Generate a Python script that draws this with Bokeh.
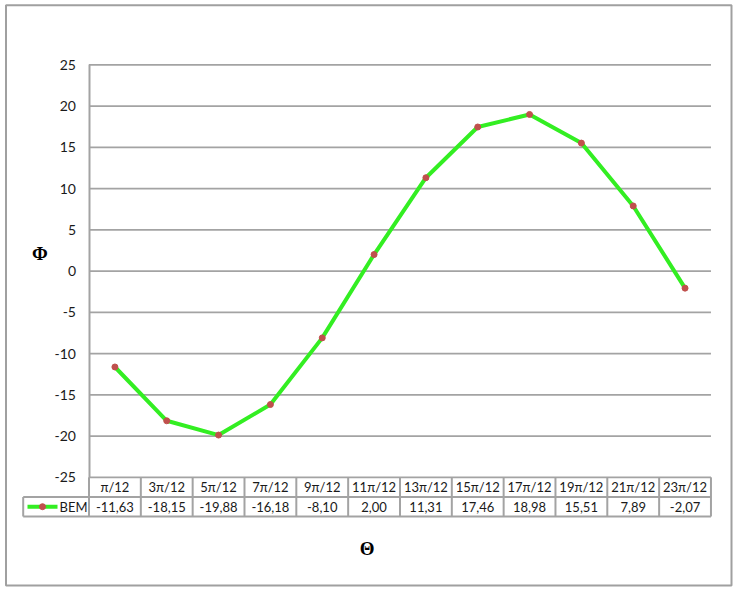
from bokeh.plotting import figure
from bokeh.models import LinearAxis, FixedTicker, Range1d, PrintfTickFormatter
from bokeh.embed import file_html
from bokeh.resources import INLINE
from bokeh.core.properties import value

# ---------------- data ----------------
categories = ["π/12", "3π/12", "5π/12", "7π/12", "9π/12", "11π/12",
              "13π/12", "15π/12", "17π/12", "19π/12", "21π/12", "23π/12"]
bem = [-11.63, -18.15, -19.88, -16.18, -8.10, 2.00,
       11.31, 17.46, 18.98, 15.51, 7.89, -2.07]
y_ticks = [-25, -20, -15, -10, -5, 0, 5, 10, 15, 20, 25]
series_name = "BEM"
x_title = "Θ"
y_title = "Φ"

# ---------------- layout ----------------
W, H = 736, 592
n = len(categories)
px_col = 51.83          # pixels per category column
x0_px = 88.5            # canvas x of first column edge
px_unit = 8.25          # pixels per y unit
ytop_px = 64.3          # canvas y of y = 25
y_min, y_max = y_ticks[0], y_ticks[-1]

x_start = -x0_px / px_col
x_end = x_start + W / px_col
y_end = y_max + ytop_px / px_unit
y_start = y_end - H / px_unit


def cx(px):
    return x_start + px / px_col


def cy(py):
    return y_end - py / px_unit


row_h = 19.6 / px_unit
r0 = y_min
r1 = y_min - row_h
r2 = y_min - 2 * row_h
leg_left = cx(22.7)

GRID = "#a3a3a3"
GREEN = "#33ee22"
RED = "#c0504d"
FONT = value("Lato")

p = figure(width=W, height=H, x_range=Range1d(x_start, x_end),
           y_range=Range1d(y_start, y_end), x_axis_type=None, y_axis_type=None,
           toolbar_location=None, output_backend="svg", min_border=0)
p.outline_line_color = None
p.background_fill_color = "white"
p.border_fill_color = "white"

# outer border
p.quad(left=[cx(5.5)], right=[cx(731)], bottom=[cy(585)], top=[cy(4.8)],
       fill_color=None, line_color="#a0a0a0", line_width=2)

# y axis
ax = LinearAxis(ticker=FixedTicker(ticks=y_ticks), fixed_location=0,
                bounds=(y_min, y_max), formatter=PrintfTickFormatter(format="%d"))
ax.axis_line_color = GRID
ax.axis_line_width = 2
ax.major_tick_in = 0
ax.major_tick_out = 0
ax.minor_tick_in = 0
ax.minor_tick_out = 0
ax.major_label_standoff = 13
ax.major_label_text_font = "Lato"
ax.major_label_text_font_size = "14px"
ax.major_label_text_color = "#1a1a1a"
p.add_layout(ax, "left")

# horizontal grid lines
p.segment(x0=[0] * len(y_ticks), x1=[n] * len(y_ticks), y0=y_ticks, y1=y_ticks,
          line_color=GRID, line_width=1.8)

# data table lines
p.segment(x0=list(range(n + 1)), x1=list(range(n + 1)),
          y0=[r0] * (n + 1), y1=[r2] * (n + 1), line_color=GRID, line_width=2)
p.segment(x0=[leg_left, leg_left, leg_left], x1=[n, n, leg_left],
          y0=[r1, r2, r1], y1=[r1, r2, r2], line_color=GRID, line_width=2)

# series
xs = [i + 0.5 for i in range(n)]
p.line(xs, bem, line_color=GREEN, line_width=4)
p.scatter(xs, bem, size=6, fill_color=RED, line_color=RED)

# table text
row1_y = (r0 + r1) / 2
row2_y = (r1 + r2) / 2
value_labels = [f"{v:.2f}".replace(".", ",") for v in bem]
p.text(xs, [row1_y] * n, text=categories, text_align="center",
       text_baseline="middle", text_font=FONT, text_font_size="13px",
       text_color="#1a1a1a")
p.text(xs, [row2_y - 0.05] * n, text=value_labels, text_align="center",
       text_baseline="middle", text_font=FONT, text_font_size="13px",
       text_color="#1a1a1a")

# legend key in table
lk0 = cx(27)
lk1 = cx(57)
p.line([lk0, lk1], [row2_y, row2_y], line_color=GREEN, line_width=4)
p.scatter([(lk0 + lk1) / 2], [row2_y], size=6, fill_color=RED, line_color=RED)
p.text([cx(59)], [row2_y - 0.05], text=[series_name],
       text_align="left", text_baseline="middle", text_font=FONT,
       text_font_size="13px", text_color="#1a1a1a")

# axis titles
p.text([cx(39.3)], [cy(253)], text=[y_title], text_align="center",
       text_baseline="middle", text_font=value("Liberation Serif"),
       text_font_size="19px", text_font_style="bold", text_color="black")
p.text([(leg_left + n) / 2], [cy(548)], text=[x_title], text_align="center",
       text_baseline="middle", text_font=value("Liberation Serif"),
       text_font_size="19px", text_font_style="bold", text_color="black")

open("out.html", "w").write(file_html(p, INLINE))
